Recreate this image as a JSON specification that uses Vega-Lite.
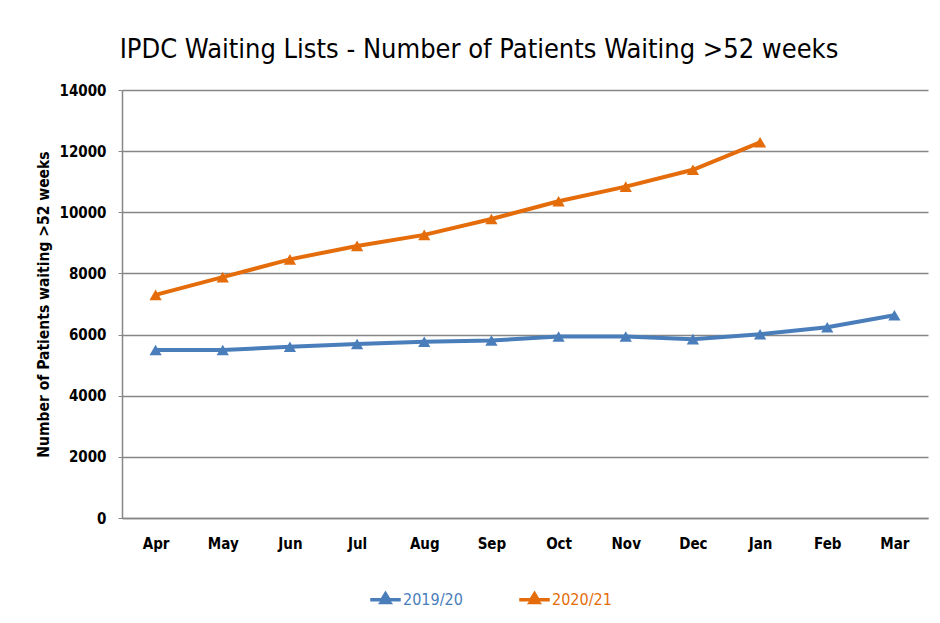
{
  "$schema": "https://vega.github.io/schema/vega-lite/v6.json",
  "width": 806,
  "height": 428,
  "autosize": {"type": "none"},
  "padding": {"left": 122, "top": 90, "right": 12, "bottom": 105},
  "background": "white",
  "title": {
    "text": "IPDC Waiting Lists - Number of Patients Waiting >52 weeks",
    "font": "DejaVu Sans Condensed, sans-serif",
    "fontSize": 27,
    "fontWeight": "normal",
    "color": "#000000",
    "anchor": "middle",
    "dx": -46,
    "offset": 19
  },
  "data": {
    "values": [
      {"month": "Apr", "year": "2019/20", "patients": 5495},
      {"month": "May", "year": "2019/20", "patients": 5495},
      {"month": "Jun", "year": "2019/20", "patients": 5600},
      {"month": "Jul", "year": "2019/20", "patients": 5690},
      {"month": "Aug", "year": "2019/20", "patients": 5765},
      {"month": "Sep", "year": "2019/20", "patients": 5805},
      {"month": "Oct", "year": "2019/20", "patients": 5935},
      {"month": "Nov", "year": "2019/20", "patients": 5935},
      {"month": "Dec", "year": "2019/20", "patients": 5850},
      {"month": "Jan", "year": "2019/20", "patients": 6010},
      {"month": "Feb", "year": "2019/20", "patients": 6240},
      {"month": "Mar", "year": "2019/20", "patients": 6630},
      {"month": "Apr", "year": "2020/21", "patients": 7300},
      {"month": "May", "year": "2020/21", "patients": 7880},
      {"month": "Jun", "year": "2020/21", "patients": 8460},
      {"month": "Jul", "year": "2020/21", "patients": 8900},
      {"month": "Aug", "year": "2020/21", "patients": 9260},
      {"month": "Sep", "year": "2020/21", "patients": 9780},
      {"month": "Oct", "year": "2020/21", "patients": 10360},
      {"month": "Nov", "year": "2020/21", "patients": 10840},
      {"month": "Dec", "year": "2020/21", "patients": 11390},
      {"month": "Jan", "year": "2020/21", "patients": 12290}
    ]
  },
  "encoding": {
    "x": {
      "field": "month",
      "type": "ordinal",
      "sort": ["Apr","May","Jun","Jul","Aug","Sep","Oct","Nov","Dec","Jan","Feb","Mar"],
      "scale": {"type": "point", "padding": 0.5},
      "axis": {
        "title": null,
        "labelAngle": 0,
        "ticks": false,
        "grid": false,
        "domainColor": "#868686",
        "domainWidth": 1.5,
        "labelPadding": 18,
        "labelFont": "DejaVu Sans Condensed, sans-serif",
        "labelFontSize": 15,
        "labelFontWeight": "bold",
        "labelColor": "#000000"
      }
    },
    "y": {
      "field": "patients",
      "type": "quantitative",
      "scale": {"domain": [0, 14000], "nice": false},
      "axis": {
        "title": "Number of Patients waiting >52 weeks",
        "titleFont": "DejaVu Sans Condensed, sans-serif",
        "titleFontSize": 15.5,
        "titleFontWeight": "bold",
        "titleColor": "#000000",
        "titlePadding": 8,
        "values": [0,2000,4000,6000,8000,10000,12000,14000],
        "format": "d",
        "grid": true,
        "gridColor": "#868686",
        "gridWidth": 1.5,
        "domainColor": "#868686",
        "domainWidth": 1.5,
        "tickColor": "#868686",
        "tickSize": 4,
        "labelPadding": 12,
        "labelFont": "DejaVu Sans Condensed, sans-serif",
        "labelFontSize": 15,
        "labelFontWeight": "bold",
        "labelColor": "#000000"
      }
    },
    "color": {
      "field": "year",
      "type": "nominal",
      "scale": {"domain": ["2019/20", "2020/21"], "range": ["#4a7ebb", "#e46c0a"]},
      "legend": {
        "title": null,
        "orient": "none",
        "direction": "horizontal",
        "legendX": 248,
        "legendY": 494,
        "symbolType": "M-1,-0.12H-0.3L0,-0.6L0.3,-0.12H1V0.12H0.36L0.5,0.3H-0.5L-0.36,0.12H-1Z",
        "symbolSize": 930,
        "symbolStrokeWidth": 0,
        "columnPadding": 56,
        "labelFont": "DejaVu Sans Condensed, sans-serif",
        "labelFontSize": 16,
        "labelOffset": 2,
        "encode": {
          "labels": {"update": {"fill": {"scale": "color", "field": "value"}}}
        }
      }
    }
  },
  "layer": [
    {"mark": {"type": "line", "strokeWidth": 4}},
    {"mark": {"type": "point", "shape": "triangle-up", "filled": true, "size": 150, "opacity": 1}}
  ],
  "config": {
    "view": {"stroke": null}
  }
}
